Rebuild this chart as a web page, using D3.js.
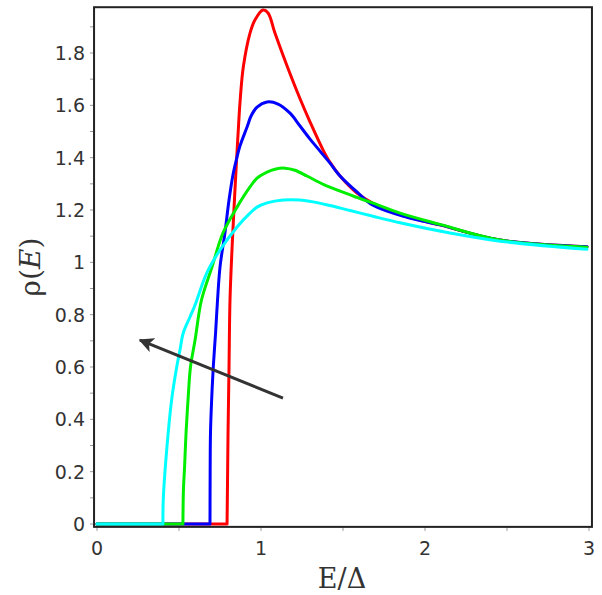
<!DOCTYPE html>
<html>
<head>
<meta charset="utf-8">
<script src="https://cdn.jsdelivr.net/npm/d3@7"></script>
<style>
  html, body { margin: 0; padding: 0; background: #fff; }
  svg { display: block; }
</style>
</head>
<body>
<svg id="chart" width="602" height="595"></svg>
<script>
// Density of states rho(E) vs E/Delta for four broadening values
const xTicks = [0, 1, 2, 3];
const xMinor = [0.5, 1.5, 2.5];
const yTicks = [0, 0.2, 0.4, 0.6, 0.8, 1, 1.2, 1.4, 1.6, 1.8];
const yMinor = [0.1, 0.3, 0.5, 0.7, 0.9, 1.1, 1.3, 1.5, 1.7, 1.9];

const redSeries = [
  [0, 0], [0.793, 0], [0.796, 0.168], [0.799, 0.348], [0.805, 0.600], [0.811, 0.856],
  [0.823, 1.047], [0.838, 1.238], [0.851, 1.391], [0.861, 1.500], [0.873, 1.620],
  [0.892, 1.746], [0.933, 1.876], [0.963, 1.926], [1.012, 1.964], [1.043, 1.953],
  [1.085, 1.876], [1.159, 1.750], [1.238, 1.625], [1.300, 1.535], [1.378, 1.430],
  [1.421, 1.382], [1.482, 1.330], [1.585, 1.265], [1.683, 1.225], [1.890, 1.175],
  [2.091, 1.143], [2.457, 1.085], [2.988, 1.060]
];
const blueSeries = [
  [0, 0], [0.689, 0], [0.690, 0.206], [0.692, 0.348], [0.699, 0.474], [0.709, 0.600],
  [0.723, 0.730], [0.735, 0.856], [0.750, 0.982], [0.780, 1.112], [0.805, 1.238],
  [0.829, 1.334], [0.851, 1.395], [0.872, 1.445], [0.915, 1.517], [0.940, 1.560],
  [0.976, 1.593], [1.037, 1.613], [1.104, 1.605], [1.177, 1.570], [1.238, 1.521],
  [1.299, 1.471], [1.360, 1.425], [1.421, 1.379], [1.482, 1.330], [1.585, 1.269],
  [1.683, 1.218], [1.890, 1.172], [2.091, 1.143], [2.457, 1.085], [2.988, 1.060]
];
const greenSeries = [
  [0, 0], [0.524, 0], [0.527, 0.130], [0.534, 0.218], [0.543, 0.348], [0.555, 0.474],
  [0.570, 0.600], [0.598, 0.703], [0.637, 0.856], [0.701, 0.982], [0.768, 1.112],
  [0.854, 1.211], [0.933, 1.288], [0.976, 1.322], [1.037, 1.345], [1.085, 1.356],
  [1.146, 1.360], [1.207, 1.352], [1.280, 1.330], [1.380, 1.298], [1.482, 1.272],
  [1.585, 1.248], [1.683, 1.226], [1.848, 1.188], [2.091, 1.145], [2.457, 1.085],
  [2.988, 1.058]
];
const cyanSeries = [
  [0, 0], [0.402, 0], [0.404, 0.092], [0.425, 0.283], [0.455, 0.474], [0.486, 0.600],
  [0.506, 0.665], [0.526, 0.730], [0.567, 0.791], [0.598, 0.837], [0.669, 0.959],
  [0.750, 1.047], [0.854, 1.135], [0.933, 1.188], [0.976, 1.211], [1.037, 1.227],
  [1.134, 1.238], [1.238, 1.238], [1.299, 1.233], [1.400, 1.220], [1.543, 1.198],
  [1.683, 1.176], [1.848, 1.151], [2.152, 1.112], [2.457, 1.081], [2.988, 1.050]
];

const seriesList = [
  { name: "red", color: "#ff0000", values: redSeries },
  { name: "blue", color: "#0000ff", values: blueSeries },
  { name: "green", color: "#00ee00", values: greenSeries },
  { name: "cyan", color: "#00ffff", values: cyanSeries }
];

// Arrow pointing towards increasing broadening: [tail, tip]
const arrowPoints = [[1.134, 0.481], [0.262, 0.703]];

(function draw() {
  const svg = d3.select("#chart");

  const x = d3.scaleLinear().domain([0, 3]).range([97, 589]);
  const y = d3.scaleLinear().domain([0, 1.8]).range([524, 53]);

  const frameLeft = x(-0.018), frameRight = x(3.018);
  const frameTop = y(1.975), frameBottom = y(-0.011);

  const tickFont = "DejaVu Sans, Verdana, sans-serif";

  // Ticks (outside, grey)
  const tickG = svg.append("g").attr("stroke", "#999").attr("stroke-width", 1);
  tickG.selectAll("line.xt").data(xTicks.concat(xMinor)).join("line")
    .attr("x1", d => x(d)).attr("x2", d => x(d))
    .attr("y1", frameBottom).attr("y2", frameBottom + 4);
  tickG.selectAll("line.yt").data(yTicks.concat(yMinor)).join("line")
    .attr("x1", frameLeft - 4).attr("x2", frameLeft)
    .attr("y1", d => y(d)).attr("y2", d => y(d));

  // Tick labels
  svg.append("g").selectAll("text").data(xTicks).join("text")
    .attr("x", d => x(d)).attr("y", 555)
    .attr("text-anchor", "middle")
    .attr("font-family", tickFont).attr("font-size", 19).attr("fill", "#333")
    .text(d => String(d));

  svg.append("g").selectAll("text").data(yTicks).join("text")
    .attr("x", 85).attr("y", d => y(d) + 7)
    .attr("text-anchor", "end")
    .attr("font-family", tickFont).attr("font-size", 19).attr("fill", "#333")
    .text(d => (d === 0 || d === 1) ? String(d) : d3.format(".1f")(d));

  // Curves: the gap region (rho = 0) is straight, the rest is a smooth spline
  const flatLine = d3.line().x(d => x(d[0])).y(d => y(d[1]));
  const smoothLine = d3.line().x(d => x(d[0])).y(d => y(d[1]))
    .curve(d3.curveCatmullRom.alpha(0.5));

  function pathFor(values) {
    const firstRise = values.findIndex(d => d[1] > 0);
    const flat = values.slice(0, firstRise);
    const rest = values.slice(firstRise - 1);
    return flatLine(flat) + smoothLine(rest);
  }

  svg.append("clipPath").attr("id", "plotclip")
    .append("rect").attr("x", frameLeft).attr("y", frameTop - 2)
    .attr("width", frameRight - frameLeft).attr("height", frameBottom - frameTop + 2);

  svg.append("g").attr("clip-path", "url(#plotclip)")
    .selectAll("path").data(seriesList).join("path")
    .attr("d", d => pathFor(d.values))
    .attr("fill", "none")
    .attr("stroke", d => d.color)
    .attr("stroke-width", 3)
    .attr("stroke-linejoin", "round")
    .attr("stroke-linecap", "round");

  // Frame
  svg.append("rect")
    .attr("x", frameLeft).attr("y", frameTop)
    .attr("width", frameRight - frameLeft).attr("height", frameBottom - frameTop)
    .attr("fill", "none").attr("stroke", "#222").attr("stroke-width", 2);

  // Arrow annotation
  svg.append("defs").append("marker")
    .attr("id", "arrowhead")
    .attr("viewBox", "0 0 10 10")
    .attr("refX", 9).attr("refY", 5)
    .attr("markerWidth", 5).attr("markerHeight", 5)
    .attr("markerUnits", "strokeWidth")
    .attr("orient", "auto")
    .append("path").attr("d", "M0,0 L10,5 L0,10 L2.5,5 Z").attr("fill", "#333");

  svg.append("line")
    .attr("x1", x(arrowPoints[0][0])).attr("y1", y(arrowPoints[0][1]))
    .attr("x2", x(arrowPoints[1][0])).attr("y2", y(arrowPoints[1][1]))
    .attr("stroke", "#333").attr("stroke-width", 3)
    .attr("marker-end", "url(#arrowhead)");

  // Axis titles
  svg.append("text")
    .attr("x", 342).attr("y", 588)
    .attr("text-anchor", "middle")
    .attr("font-family", "DejaVu Serif, serif").attr("font-size", 27).attr("fill", "#333")
    .text("E/Δ");

  const yTitle = svg.append("text")
    .attr("transform", "translate(40,267) rotate(-90)")
    .attr("text-anchor", "middle")
    .attr("font-family", "DejaVu Serif, serif").attr("font-size", 28).attr("fill", "#333");
  yTitle.append("tspan").text("ρ(");
  yTitle.append("tspan").attr("font-style", "italic").text("E");
  yTitle.append("tspan").text(")");
})();
</script>
</body>
</html>
